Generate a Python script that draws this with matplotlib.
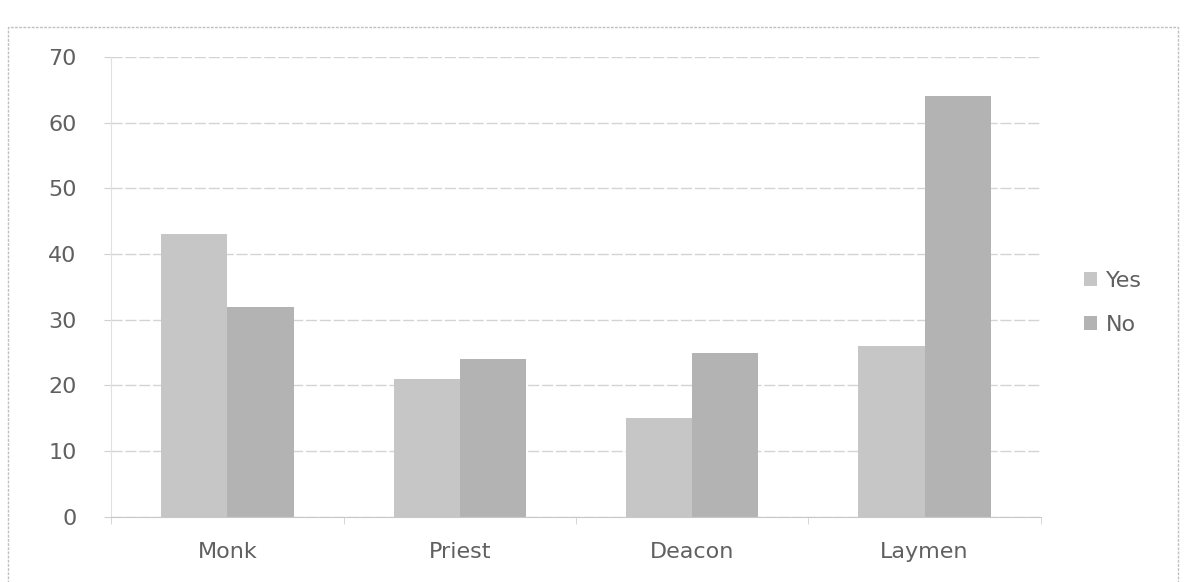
import matplotlib.pyplot as plt
import numpy as np
from matplotlib.patches import Rectangle

categories = ['Monk', 'Priest', 'Deacon', 'Laymen']
yes_values = [43, 21, 15, 26]
no_values = [32, 24, 25, 64]
series_names = ['Yes', 'No']

plt.rcParams['font.family'] = ['DejaVu Sans']

fig = plt.figure(figsize=(11.84, 5.82), dpi=100)
ax = fig.add_axes([0.094, 0.112, 0.785, 0.79])

x = np.arange(len(categories))
width = 0.285
ax.bar(x - width / 2, yes_values, width, color='#c6c6c6', label=series_names[0], zorder=2)
ax.bar(x + width / 2, no_values, width, color='#b3b3b3', label=series_names[1], zorder=2)

ax.set_xlim(-0.5, len(categories) - 0.5)
ax.set_ylim(0, 70)
ax.set_yticks(range(0, 71, 10))
ax.set_xticks(x)
ax.set_xticklabels(categories)
ax.set_xticks(np.arange(-0.5, len(categories), 1), minor=True)

ax.yaxis.grid(True, color='#d4d4d4', linewidth=1, linestyle=(0, (8, 2)), zorder=0)
for side in ['top', 'right']:
    ax.spines[side].set_visible(False)
ax.spines['left'].set_color('#e0e0e0')
ax.spines['bottom'].set_color('#c8c8c8')

ax.tick_params(axis='y', length=5, color='#d0d0d0', labelsize=16, labelcolor='#606060', pad=20)
ax.tick_params(axis='x', which='major', length=0, labelsize=16, labelcolor='#606060', pad=18)
ax.tick_params(axis='x', which='minor', length=5, color='#d0d0d0')

leg = ax.legend(loc='center left', bbox_to_anchor=(1.025, 0.465), frameon=False,
                fontsize=16, handlelength=0.6, handleheight=0.6, handletextpad=0.4,
                labelspacing=1.1, labelcolor='#606060')

# chart border
fig.patches.append(Rectangle((0.007, -0.01), 0.988, 0.963, transform=fig.transFigure,
                             fill=False, edgecolor='#c0c0c0', linewidth=1,
                             linestyle=(0, (2, 1))))

fig.savefig('out.png', dpi=100)
